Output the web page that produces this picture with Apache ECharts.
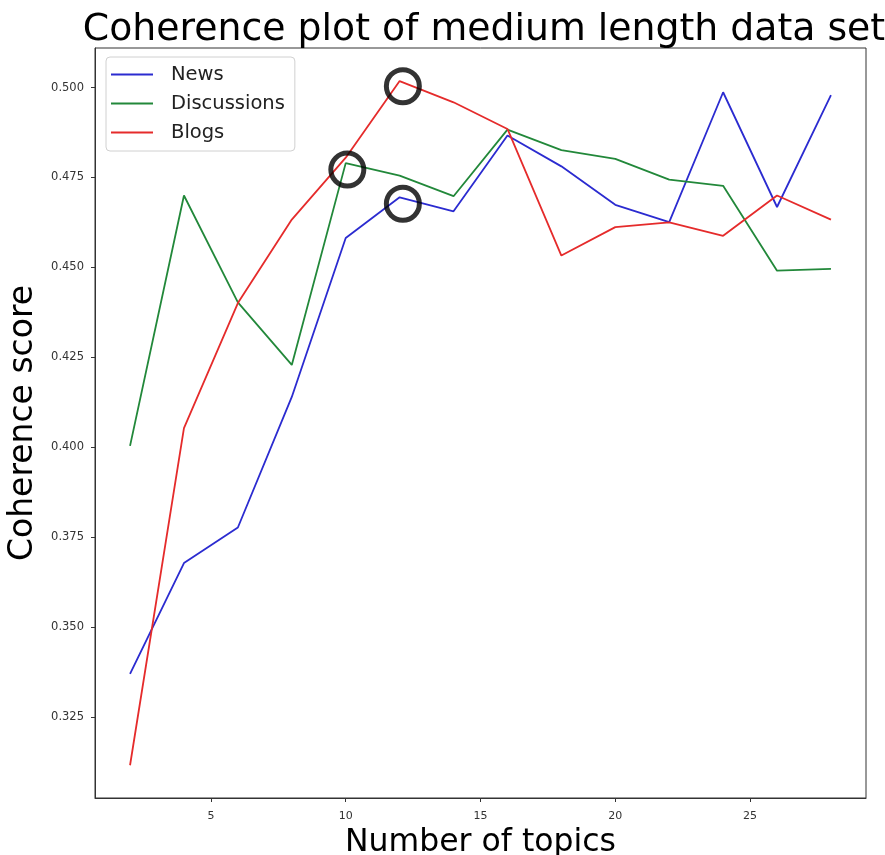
<!DOCTYPE html>
<html>
<head>
<meta charset="utf-8">
<script src="https://cdn.jsdelivr.net/npm/echarts@6/dist/echarts.min.js"></script>
<style>
html,body{margin:0;padding:0;background:#fff;}
#chart{width:885px;height:855px;}
</style>
</head>
<body>
<div id="chart"></div>
<script>
// Data
var topics = [2, 4, 6, 8, 10, 12, 14, 16, 18, 20, 22, 24, 26, 28];
var news = [0.3370, 0.3678, 0.3777, 0.4140, 0.4582, 0.4695, 0.4656, 0.4867, 0.4781, 0.4674, 0.4626, 0.4987, 0.4668, 0.4979];
var discussions = [0.4004, 0.4700, 0.4403, 0.4229, 0.4790, 0.4755, 0.4698, 0.4883, 0.4826, 0.4802, 0.4744, 0.4727, 0.4491, 0.4496];
var blogs = [0.3116, 0.4053, 0.4401, 0.4633, 0.4805, 0.5018, 0.4959, 0.4885, 0.4533, 0.4612, 0.4625, 0.4588, 0.4700, 0.4633];
var circleX = [12.12, 10.06, 12.12];
var circleY = [0.50036, 0.4772, 0.4677];
var xTicks = [5, 10, 15, 20, 25];
var yTicks = [0.325, 0.350, 0.375, 0.400, 0.425, 0.450, 0.475, 0.500];

function pairs(xs, ys) { return xs.map(function (x, i) { return [x, ys[i]]; }); }

var FONT = "'DejaVu Sans', sans-serif";
var chart = echarts.init(document.getElementById('chart'), null, {renderer: 'canvas'});
var lineSeries = function (name, ys, color) {
  return {
    name: name, type: 'line', data: pairs(topics, ys), symbol: 'none',
    lineStyle: {color: color, width: 1.8}, itemStyle: {color: color}, animation: false
  };
};
chart.setOption({
  animation: false,
  backgroundColor: '#fff',
  title: {
    text: 'Coherence plot of medium length data set',
    left: 479, top: 6, textAlign: 'center',
    textStyle: {fontFamily: FONT, fontSize: 37.8, fontWeight: 'normal', color: '#000'}
  },
  grid: {left: 95, top: 48, right: 19, bottom: 57, show: true, borderColor: '#333', borderWidth: 1,
    backgroundColor: 'transparent', containLabel: false, outerBoundsMode: 'none'},
  legend: {
    orient: 'vertical', left: 106, top: 57,
    data: ['News', 'Discussions', 'Blogs'],
    icon: 'rect', itemWidth: 42, itemHeight: 2, itemGap: 8,
    padding: [7, 10, 8, 5],
    borderColor: '#d0d0d0', borderWidth: 1, borderRadius: 4,
    backgroundColor: '#fff',
    textStyle: {fontFamily: FONT, fontSize: 19.5, color: '#222', lineHeight: 21, padding: [0, 0, 0, 13]}
  },
  xAxis: {
    type: 'value', min: 0.7, max: 29.3,
    name: 'Number of topics', nameLocation: 'middle', nameGap: 24,
    nameTextStyle: {fontFamily: FONT, fontSize: 31.5, color: '#000', verticalAlign: 'top'},
    axisLine: {show: true, lineStyle: {color: '#333'}},
    axisTick: {show: true, length: 4, lineStyle: {color: '#333'}, customValues: xTicks},
    axisLabel: {fontFamily: FONT, fontSize: 11, color: '#333', margin: 13, customValues: xTicks},
    splitLine: {show: false}
  },
  yAxis: {
    type: 'value', min: 0.3025, max: 0.511,
    name: 'Coherence score', nameLocation: 'middle', nameGap: 47, nameRotate: 90,
    nameTextStyle: {fontFamily: FONT, fontSize: 33, color: '#000'},
    axisLine: {show: true, lineStyle: {color: '#333'}},
    axisTick: {show: true, length: 4, lineStyle: {color: '#333'}, customValues: yTicks},
    axisLabel: {fontFamily: FONT, fontSize: 11.5, color: '#333', margin: 11, customValues: yTicks,
      formatter: function (v) { return v.toFixed(3); }},
    splitLine: {show: false}
  },
  series: [
    lineSeries('News', news, '#2b2bd0'),
    lineSeries('Discussions', discussions, '#22883a'),
    lineSeries('Blogs', blogs, '#e52b2b'),
    {
      name: 'marks', type: 'scatter', data: pairs(circleX, circleY),
      symbol: 'circle', symbolSize: 33,
      itemStyle: {color: 'transparent', borderColor: '#000', borderWidth: 5},
      z: 5, silent: true, animation: false
    }
  ]
});
</script>
</body>
</html>
